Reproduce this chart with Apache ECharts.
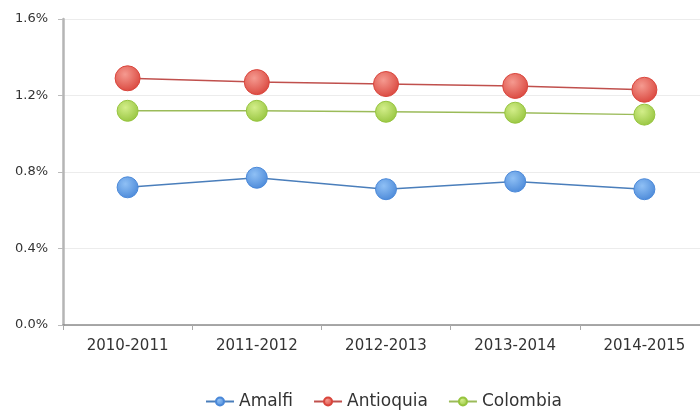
<!DOCTYPE html>
<html><head><meta charset="utf-8">
<script src="https://cdn.jsdelivr.net/npm/echarts@6/dist/echarts.min.js"></script>
<style>html,body{margin:0;padding:0;background:#fff;overflow:hidden;width:700px;height:412px}#c{width:709px;height:412px}</style>
</head><body><div id="c"></div>
<script>
var categories = ['2010-2011','2011-2012','2012-2013','2013-2014','2014-2015'];
var amalfi = [0.72, 0.77, 0.71, 0.75, 0.71];
var antioquia = [1.29, 1.27, 1.26, 1.25, 1.23];
var colombia = [1.12, 1.12, 1.115, 1.11, 1.10];
var yTicks = [0, 0.4, 0.8, 1.2, 1.6];

function grad(light, dark){
  return new echarts.graphic.RadialGradient(0.4,0.35,0.7,[{offset:0,color:light},{offset:1,color:dark}]);
}
var font = '"DejaVu Sans", sans-serif';
var chart = echarts.init(document.getElementById('c'));
function mk(name, data, lineColor, light, dark, size){
  return {name:name, type:'line', data:data, symbol:'circle', symbolSize:size,
    lineStyle:{color:lineColor,width:1.5},
    itemStyle:{color:grad(light,dark), borderColor:dark, borderWidth:1},
    emphasis:{disabled:true}};
}
chart.setOption({
  animation:false,
  grid:{left:63, top:19, right:0, height:306},
  xAxis:{type:'category', data:categories, boundaryGap:true,
    axisLine:{lineStyle:{color:'#8c8c8c',width:1.5}},
    axisTick:{show:true, length:5, lineStyle:{color:'#aaa'}},
    axisLabel:{color:'#333', fontSize:15, fontFamily:font, margin:14}},
  yAxis:{type:'value', min:yTicks[0], max:yTicks[yTicks.length-1], interval:0.4,
    axisLine:{show:true, lineStyle:{color:'#b5b5b5',width:2.5}},
    axisTick:{show:true, length:5, lineStyle:{color:'#bbb'}},
    splitLine:{lineStyle:{color:'#ececec'}},
    axisLabel:{color:'#333', fontSize:13, fontFamily:font, margin:15,
      formatter:function(v){return v.toFixed(1)+'%';}}},
  legend:{top:388, left:200, itemWidth:28, itemHeight:10, itemGap:20,
    textStyle:{color:'#333', fontSize:17, fontFamily:font},
    data:['Amalfi','Antioquia','Colombia']},
  series:[
    mk('Amalfi', amalfi, '#4a7ebb', '#8fc0f5', '#4a88d8', 21),
    mk('Antioquia', antioquia, '#c0504d', '#f59a90', '#d9453c', 25),
    mk('Colombia', colombia, '#9bbb59', '#d3ee8a', '#96c43e', 21)
  ]
});
</script></body></html>
